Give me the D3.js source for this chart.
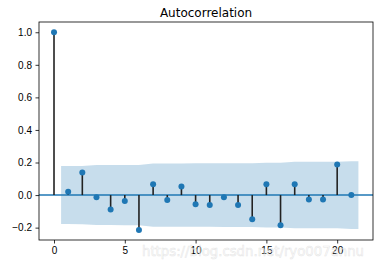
<!DOCTYPE html>
<html lang="en">
<head>
<meta charset="utf-8" />
<title>Autocorrelation</title>
<script src="https://cdn.jsdelivr.net/npm/d3@7"></script>
<style>
  body { margin: 0; background: #fff; }
  svg { display: block; font-family: "DejaVu Sans", sans-serif; }
  .tick text { font-size: 10px; fill: #000; }
  .tick line { stroke: #000; stroke-width: 0.8; }
  .domain { display: none; }
</style>
</head>
<body>
<div id="chart"></div>
<script>
// acf values per lag
var lags = [0, 1, 2, 3, 4, 5, 6, 7, 8, 9, 10, 11, 12, 13, 14, 15, 16, 17, 18, 19, 20, 21];
var acf = [1.0, 0.02, 0.139, -0.014, -0.088, -0.037, -0.215, 0.067, -0.031, 0.053,
           -0.057, -0.061, -0.014, -0.061, -0.149, 0.067, -0.186, 0.067, -0.027, -0.027, 0.188, 0.0];

// confidence band (half width) at positions
var bandX = [0.5, 1, 2, 3, 4, 5, 6, 7, 8, 9, 10, 11, 12, 13, 14, 15, 16, 17, 18, 19, 20, 21, 21.5];
var bandW = [0.178, 0.178, 0.179, 0.184, 0.184, 0.185, 0.185, 0.194, 0.194, 0.194, 0.195,
             0.195, 0.196, 0.196, 0.196, 0.199, 0.199, 0.204, 0.204, 0.204, 0.204, 0.208, 0.208];

var yTicks = [-0.2, 0.0, 0.2, 0.4, 0.6, 0.8, 1.0];
var xTicks = [0, 5, 10, 15, 20];

var width = 380, height = 264;
var mLeft = 39, mRight = 373, mTop = 22, mBottom = 240;

var x = d3.scaleLinear().domain([-1.06, 22.53]).range([mLeft, mRight]);
var y = d3.scaleLinear().domain([-0.276, 1.063]).range([mBottom, mTop]);

var svg = d3.select("#chart").append("svg")
    .attr("width", width)
    .attr("height", height);

// band
var area = d3.area()
    .x(function(d, i) { return x(bandX[i]); })
    .y0(function(d, i) { return y(-bandW[i]); })
    .y1(function(d, i) { return y(bandW[i]); });

svg.append("path")
    .datum(bandX)
    .attr("d", area)
    .attr("fill", "#1f77b4")
    .attr("fill-opacity", 0.25);

// zero line
svg.append("line")
    .attr("x1", mLeft).attr("x2", mRight)
    .attr("y1", y(0)).attr("y2", y(0))
    .attr("stroke", "#1f77b4")
    .attr("stroke-width", 1.5);

// stems
svg.selectAll(".stem")
    .data(lags)
    .enter().append("line")
    .attr("class", "stem")
    .attr("x1", function(d) { return x(d); })
    .attr("x2", function(d) { return x(d); })
    .attr("y1", y(0))
    .attr("y2", function(d, i) { return y(acf[i]); })
    .attr("stroke", "#222")
    .attr("stroke-width", 1.6);

// markers
svg.selectAll(".pt")
    .data(lags)
    .enter().append("circle")
    .attr("class", "pt")
    .attr("cx", function(d) { return x(d); })
    .attr("cy", function(d, i) { return y(acf[i]); })
    .attr("r", 3)
    .attr("fill", "#1f77b4");

// frame
svg.append("rect")
    .attr("x", mLeft).attr("y", mTop)
    .attr("width", mRight - mLeft).attr("height", mBottom - mTop)
    .attr("fill", "none")
    .attr("stroke", "#000")
    .attr("stroke-width", 0.8);

// axes
svg.append("g")
    .attr("transform", "translate(" + mLeft + ",0)")
    .call(d3.axisLeft(y).tickValues(yTicks).tickSize(3.5).tickPadding(3.5).tickFormat(d3.format(".1f")));

svg.append("g")
    .attr("transform", "translate(0," + mBottom + ")")
    .call(d3.axisBottom(x).tickValues(xTicks).tickSize(3.5).tickPadding(3.5).tickFormat(d3.format("d")));

// title
svg.append("text")
    .attr("x", (mLeft + mRight) / 2)
    .attr("y", 17)
    .attr("text-anchor", "middle")
    .attr("font-size", 12)
    .attr("fill", "#000")
    .text("Autocorrelation");

// watermark
svg.append("text")
    .attr("x", 142)
    .attr("y", 256)
    .attr("font-size", 14)
    .attr("textLength", 222)
    .attr("lengthAdjust", "spacingAndGlyphs")
    .attr("fill", "#fff")
    .attr("fill-opacity", 0.5)
    .attr("stroke", "#ccc")
    .attr("stroke-opacity", 0.5)
    .attr("stroke-width", 0.6)
    .text("https://blog.csdn.net/ryo007annu");
</script>
</body>
</html>
